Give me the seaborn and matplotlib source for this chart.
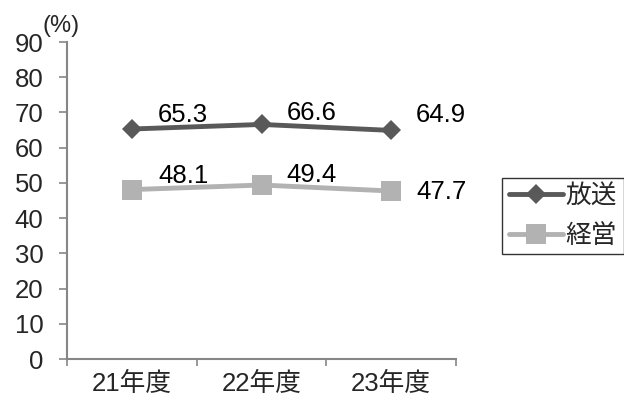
import matplotlib
matplotlib.use("Agg")
import matplotlib.pyplot as plt
import seaborn as sns
import pandas as pd

years = ["21年度", "22年度", "23年度"]
broadcast = [65.3, 66.6, 64.9]
management = [48.1, 49.4, 47.7]
series_names = ["放送", "経営"]
y_ticks = [0, 10, 20, 30, 40, 50, 60, 70, 80, 90]

sns.set_theme(style="white")
plt.rcParams["font.family"] = ["Liberation Sans", "Noto Sans CJK JP", "DejaVu Sans"]

df = pd.DataFrame({
    "year": years * 2,
    "pos": list(range(len(years))) * 2,
    "value": broadcast + management,
    "series": [series_names[0]] * len(years) + [series_names[1]] * len(years),
})

colors = {"放送": "#595959", "経営": "#B2B2B2"}
markers = {"放送": "D", "経営": "s"}
msizes = {"放送": 10, "経営": 14}
FS = 18.5

# per-label placement (points) relative to each marker
label_dx = [[19, 18, 18], [19, 18, 18]]
label_dy = [[10, 8, 11], [10, 7, -1]]

fig = plt.figure(figsize=(6.24, 3.96), dpi=100)
ax = fig.add_axes([0.1074, 0.0934, 0.6234, 0.8005])

sns.lineplot(data=df, x="pos", y="value", hue="series", style="series",
             palette=colors, markers=markers, dashes=False, linewidth=3.5,
             ax=ax, legend=False)
for line, name in zip(ax.lines, series_names):
    line.set_markersize(msizes[name])
    line.set_markeredgewidth(0)

for s, vals in enumerate((broadcast, management)):
    for i, v in enumerate(vals):
        ax.annotate(f"{v:.1f}", xy=(i, v), xytext=(label_dx[s][i], label_dy[s][i]),
                    textcoords="offset points", ha="left", va="center",
                    fontsize=FS, color="black")

ax.set_xlim(-0.5, len(years) - 0.5)
ax.set_ylim(0, 90)
ax.set_yticks(y_ticks)
ax.set_yticklabels([str(t) for t in y_ticks], fontsize=FS)
ax.set_xticks([i - 0.5 for i in range(len(years) + 1)])
ax.set_xticklabels([])
ax.set_xticks(range(len(years)), minor=True)
ax.set_xticklabels(years, minor=True, fontsize=FS)
ax.tick_params(axis="x", which="minor", length=0, pad=9)
ax.tick_params(axis="x", which="major", length=5, width=1.2, color="#868686", direction="out", bottom=True)
ax.tick_params(axis="y", length=6, width=1.2, color="#868686", direction="out", left=True, pad=11)
ax.set_xlabel("")
ax.set_ylabel("")
for side in ("top", "right"):
    ax.spines[side].set_visible(False)
for side in ("left", "bottom"):
    ax.spines[side].set_color("#868686")
    ax.spines[side].set_linewidth(1.5)

fig.text(0.068, 0.935, "(%)", fontsize=17, ha="left", va="center")

handles = [plt.Line2D([], [], color=colors[n], marker=markers[n], linewidth=3.5,
                      markersize=msizes[n], markeredgewidth=0)
           for n in series_names]
leg = fig.legend(handles, series_names, loc="upper left", bbox_to_anchor=(0.805, 0.551),
                 frameon=True, fontsize=FS, handlelength=2.1, handletextpad=0.12,
                 borderpad=0.25, labelspacing=0.6, fancybox=False, borderaxespad=0)
leg.get_frame().set_edgecolor("black")
leg.get_frame().set_linewidth(1.0)

fig.savefig("out.png", dpi=100)
